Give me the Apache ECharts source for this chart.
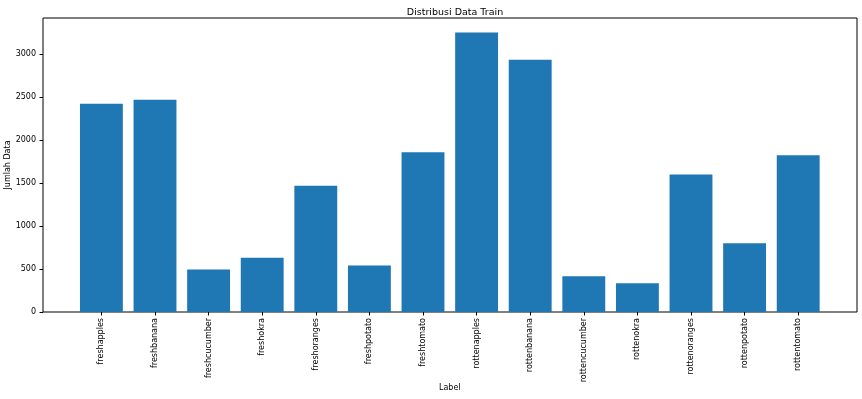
<!DOCTYPE html>
<html>
<head>
<meta charset="utf-8">
<script src="https://cdn.jsdelivr.net/npm/echarts@6/dist/echarts.min.js"></script>
<style>
  html, body { margin: 0; padding: 0; background: #fff; }
  #chart { width: 862px; height: 399px; }
</style>
</head>
<body>
<div id="chart"></div>
<script>
// data
var labels = ['freshapples', 'freshbanana', 'freshcucumber', 'freshokra', 'freshoranges', 'freshpotato', 'freshtomato',
  'rottenapples', 'rottenbanana', 'rottencucumber', 'rottenokra', 'rottenoranges', 'rottenpotato', 'rottentomato']
var counts = [2426, 2472, 496, 633, 1471, 540, 1859, 3255, 2938, 416, 334, 1600, 800, 1824]
var yTicks = [0, 500, 1000, 1500, 2000, 2500, 3000]
var yMax = 3423

var font = 'DejaVu Sans'
var myChart = echarts.init(document.getElementById('chart'))
var option = {
  animation: false,
  textStyle: { fontFamily: font },
  title: {
    text: 'Distribusi Data Train',
    left: 450,
    top: 3,
    textAlign: 'center',
    textStyle: { fontFamily: font, fontSize: 9.5, fontWeight: 'normal', color: '#000' }
  },
  grid: [
    // bars
    { left: 74.6, right: 37, top: 18, bottom: 87, outerBoundsMode: 'none', containLabel: false },
    // frame + y axis
    { left: 43, right: 5, top: 18, bottom: 87, outerBoundsMode: 'none', containLabel: false, show: true, borderColor: '#000', borderWidth: 1, backgroundColor: 'transparent' }
  ],
  xAxis: [
    {
      gridIndex: 0,
      type: 'category',
      data: labels,
      name: 'Label',
      nameLocation: 'middle',
      nameGap: 72,
      nameMoveOverlap: false,
      nameTextStyle: { fontFamily: font, fontSize: 8, color: '#000' },
      axisLine: { show: false },
      axisTick: { show: true, alignWithLabel: true, length: 3.5, lineStyle: { color: '#000' } },
      axisLabel: { rotate: 90, interval: 0, margin: 6, fontFamily: font, fontSize: 8, color: '#000' }
    },
    {
      gridIndex: 1,
      type: 'value',
      show: false
    }
  ],
  yAxis: [
    { gridIndex: 0, type: 'value', min: 0, max: yMax, show: false },
    {
      gridIndex: 1,
      type: 'value',
      min: 0,
      max: yMax,
      name: 'Jumlah Data',
      nameLocation: 'middle',
      nameGap: 31,
      nameMoveOverlap: false,
      nameTextStyle: { fontFamily: font, fontSize: 8, color: '#000' },
      splitLine: { show: false },
      axisLine: { show: false },
      axisTick: { show: true, length: 3.5, customValues: yTicks, lineStyle: { color: '#000' } },
      axisLabel: {
        customValues: yTicks,
        margin: 7,
        fontFamily: font,
        fontSize: 8,
        color: '#000',
        formatter: function (v) { return String(v) }
      }
    }
  ],
  series: [
    {
      type: 'bar',
      xAxisIndex: 0,
      yAxisIndex: 0,
      data: counts,
      barWidth: '80%',
      itemStyle: { color: '#1f77b4' }
    }
  ]
}
myChart.setOption(option)
</script>
</body>
</html>
